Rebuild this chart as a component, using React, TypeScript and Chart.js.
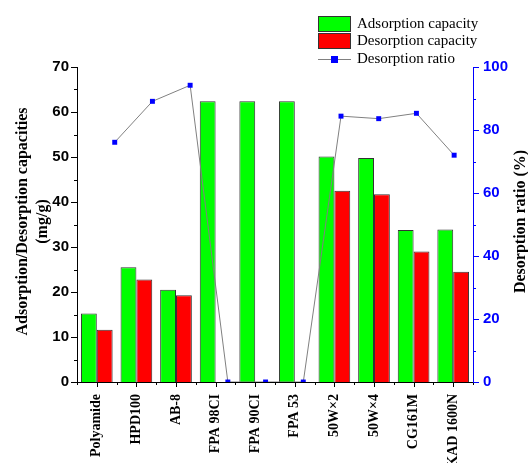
import React, { useEffect, useRef } from "react";
import { Chart, registerables } from "chart.js";

Chart.register(...registerables);

const categories = ["Polyamide", "HPD100", "AB-8", "FPA 98CI", "FPA 90CI", "FPA 53", "50W×2", "50W×4", "CG161M", "KAD 1600N"];
const adsorption = [15.2, 25.5, 20.5, 62.4, 62.4, 62.4, 50.1, 49.8, 33.8, 33.9];
const desorption = [11.6, 22.8, 19.3, null, null, null, 42.5, 41.7, 29.0, 24.5];
const ratio = [76.1, 89.1, 94.2, 0, 0, 0, 84.4, 83.6, 85.3, 72.0];
const leftTicks = [0, 10, 20, 30, 40, 50, 60, 70];
const rightTicks = [0, 20, 40, 60, 80, 100];
const seriesLabels = ["Adsorption capacity", "Desorption capacity", "Desorption ratio"];

const SERIF = "'Liberation Serif', 'Times New Roman', serif";
const SANS = "'Liberation Sans', Arial, sans-serif";
const BLUE = "#0000ff";
const GREEN = "#00ff00";
const RED = "#ff0000";
const LINE_GRAY = "#808080";

// plot frame in the 528x463 canvas
const FRAME = { left: 77, right: 55, top: 67, bottom: 81 };

const decorPlugin = {
  id: "decor",
  afterDraw(chart: any) {
    const ctx = chart.ctx;
    const area = chart.chartArea;
    const yL = chart.scales.y;
    const yR = chart.scales.yR;
    const x = chart.scales.x;
    ctx.save();
    ctx.lineWidth = 1;
    ctx.strokeStyle = "#000";
    for (let v = 0; v <= 70; v += 5) {
      const py = Math.round(yL.getPixelForValue(v)) + 0.5;
      const len = v % 10 === 0 ? 6 : 3;
      ctx.beginPath();
      ctx.moveTo(area.left, py);
      ctx.lineTo(area.left - len, py);
      ctx.stroke();
    }
    const n = categories.length;
    for (let i = 0; i < n; i++) {
      const px = Math.round(x.getPixelForValue(i)) + 0.5;
      ctx.beginPath();
      ctx.moveTo(px, area.bottom);
      ctx.lineTo(px, area.bottom + 5);
      ctx.stroke();
    }
    const w = (area.right - area.left) / n;
    for (let i = 0; i <= n; i++) {
      const px = Math.round(area.left + i * w) + 0.5;
      ctx.beginPath();
      ctx.moveTo(px, area.bottom);
      ctx.lineTo(px, area.bottom + 3);
      ctx.stroke();
    }
    ctx.strokeStyle = BLUE;
    for (let v = 0; v <= 100; v += 10) {
      const py = Math.round(yR.getPixelForValue(v)) + 0.5;
      const len = v % 20 === 0 ? 6 : 3;
      ctx.beginPath();
      ctx.moveTo(area.right, py);
      ctx.lineTo(area.right + len, py);
      ctx.stroke();
    }
    // axis titles
    const cy = (area.top + area.bottom) / 2 - 3;
    ctx.fillStyle = "#000";
    ctx.font = `bold 16px ${SERIF}`;
    ctx.textAlign = "center";
    ctx.textBaseline = "middle";
    const vText = (t: string, tx: number) => {
      ctx.save();
      ctx.translate(tx, cy);
      ctx.rotate(-Math.PI / 2);
      ctx.fillText(t, 0, 0);
      ctx.restore();
    };
    vText("Adsorption/Desorption capacities", 23);
    vText("(mg/g)", 43);
    vText("Desorption ratio (%)", 521);
    // legend
    const lx = 318, lw = 33;
    ctx.font = `15px ${SERIF}`;
    ctx.textAlign = "left";
    const rows = [16, 33];
    const fills = [GREEN, RED];
    for (let k = 0; k < 2; k++) {
      ctx.fillStyle = fills[k];
      ctx.fillRect(lx, rows[k], lw, 16);
      ctx.strokeStyle = "#333";
      ctx.strokeRect(lx + 0.5, rows[k] + 0.5, lw - 1, 15);
      ctx.fillStyle = "#000";
      ctx.fillText(seriesLabels[k], lx + lw + 6, rows[k] + 8);
    }
    const ly = 59.5;
    ctx.strokeStyle = LINE_GRAY;
    ctx.beginPath();
    ctx.moveTo(lx, ly);
    ctx.lineTo(lx + lw, ly);
    ctx.stroke();
    ctx.fillStyle = BLUE;
    ctx.fillRect(lx + lw / 2 - 3.5, ly - 3.5, 7, 7);
    ctx.fillStyle = "#000";
    ctx.fillText(seriesLabels[2], lx + lw + 6, ly);
    ctx.restore();
  },
};

export default function App() {
  const barRef = useRef<HTMLCanvasElement | null>(null);
  const lineRef = useRef<HTMLCanvasElement | null>(null);
  useEffect(() => {
    if (!barRef.current || !lineRef.current) return;
    const bars = new Chart(barRef.current, {
      type: "bar",
      data: {
        labels: categories,
        datasets: [
          {
            label: seriesLabels[0],
            data: adsorption,
            backgroundColor: GREEN,
            borderColor: "#333333",
            borderWidth: 1,
            categoryPercentage: 0.8,
            barPercentage: 1.0,
          },
          {
            label: seriesLabels[1],
            data: desorption as any,
            backgroundColor: RED,
            borderColor: "#333333",
            borderWidth: 1,
            categoryPercentage: 0.8,
            barPercentage: 1.0,
          },
        ],
      },
      options: {
        animation: false,
        responsive: false,
        layout: { padding: { top: FRAME.top, left: 0, right: 0, bottom: 0 } },
        plugins: { legend: { display: false }, tooltip: { enabled: false } },
        scales: {
          x: {
            type: "category",
            position: "bottom",
            grid: { display: false },
            border: { display: true, color: "#000", width: 1 },
            ticks: {
              autoSkip: false,
              minRotation: 90,
              maxRotation: 90,
              padding: 4,
              color: "#000",
              font: { family: SERIF, size: 14, weight: "bold" },
            },
            afterFit: (s: any) => { s.height = FRAME.bottom; },
          },
          y: {
            position: "left",
            min: 0,
            max: 70,
            grid: { display: false },
            border: { display: true, color: "#000", width: 1 },
            afterBuildTicks: (s: any) => { s.ticks = leftTicks.map((v) => ({ value: v })); },
            ticks: {
              padding: 0,
              color: "#000",
              font: { family: SANS, size: 15, weight: "bold" },
            },
            afterFit: (s: any) => { s.width = FRAME.left; },
          },
          yR: {
            position: "right",
            min: 0,
            max: 100,
            grid: { display: false },
            border: { display: true, color: BLUE, width: 1 },
            afterBuildTicks: (s: any) => { s.ticks = rightTicks.map((v) => ({ value: v })); },
            ticks: {
              padding: 2,
              color: BLUE,
              font: { family: SANS, size: 15, weight: "bold" },
            },
            afterFit: (s: any) => { s.width = FRAME.right; },
          },
        },
      } as any,
      plugins: [decorPlugin],
    });
    const line = new Chart(lineRef.current, {
      type: "line",
      data: {
        datasets: [
          {
            label: seriesLabels[2],
            data: ratio.map((r, i) => ({ x: i, y: r })),
            borderColor: LINE_GRAY,
            borderWidth: 1,
            pointStyle: "rect",
            pointRadius: 3.5,
            pointBackgroundColor: BLUE,
            pointBorderColor: BLUE,
            pointBorderWidth: 0,
            clip: 0,
          } as any,
        ],
      },
      options: {
        animation: false,
        responsive: false,
        layout: { padding: { top: FRAME.top, left: FRAME.left, right: FRAME.right, bottom: FRAME.bottom } },
        plugins: { legend: { display: false }, tooltip: { enabled: false } },
        scales: {
          x: { type: "linear", display: false, min: -1, max: 9.5 },
          y: { type: "linear", display: false, min: 0, max: 100 },
        },
      } as any,
    });
    return () => {
      bars.destroy();
      line.destroy();
    };
  }, []);
  const cv: React.CSSProperties = { position: "absolute", left: 0, top: 0, width: 528, height: 463, display: "block" };
  return (
    <div style={{ position: "absolute", left: 0, top: 0, width: 528, height: 463, background: "#fff" }}>
      <canvas ref={barRef} width={528} height={463} style={cv} />
      <canvas ref={lineRef} width={528} height={463} style={cv} />
    </div>
  );
}
